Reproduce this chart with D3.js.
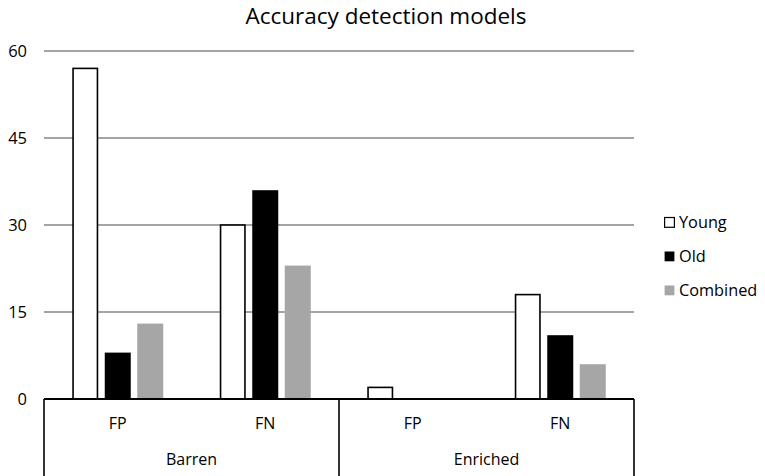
<!DOCTYPE html>
<html><head><meta charset="utf-8">
<script src="https://cdn.jsdelivr.net/npm/d3@7"></script>
<style>body{margin:0;background:#fff}svg{display:block}text{font-family:"Open Sans",sans-serif;fill:#000}</style>
</head><body>
<svg id="c" width="765" height="476"></svg>
<script>
const groups = ["Barren", "Enriched"];
const subcats = ["FP", "FN"];
const series = ["Young", "Old", "Combined"];
const young = [57, 30, 2, 18];
const old = [8, 36, 0, 11];
const combined = [13, 23, 0, 6];
const yTicks = [0, 15, 30, 45, 60];
const colors = {Young: "#ffffff", Old: "#000000", Combined: "#a6a6a6"};

const cats = [];
groups.forEach(g => subcats.forEach(s => cats.push(g + "|" + s)));
const values = {Young: young, Old: old, Combined: combined};

const svg = d3.select("#c");
const pLeft = 44, pRight = 634, pTop = 51, pBottom = 399;
const x = d3.scaleBand().domain(cats).range([pLeft, pRight]);
const xg = d3.scaleBand().domain(groups).range([pLeft, pRight]);
const y = d3.scaleLinear().domain([0, 60]).range([pBottom, pTop]);
const groupW = 91;
const xs = d3.scaleBand().domain(series).range([0, groupW]).paddingInner(0.2);

// title
svg.append("text").attr("x", 386).attr("y", 23.5).attr("text-anchor", "middle")
  .attr("dominant-baseline", "alphabetic")
  .style("font-size", "22.5px").text("Accuracy detection models");

// gridlines
svg.append("g").selectAll("line").data(yTicks.filter(d => d > 0)).join("line")
  .attr("x1", pLeft).attr("x2", pRight).attr("y1", d => y(d)).attr("y2", d => y(d))
  .attr("stroke", "#868686").attr("stroke-width", 1.5);

// y labels
svg.append("g").selectAll("text").data(yTicks).join("text")
  .attr("x", 27).attr("y", d => y(d) + 6).attr("text-anchor", "end")
  .style("font-size", "16.5px").text(d => d);

// bars
series.forEach(s => {
  svg.append("g").selectAll("rect").data(cats.map((c, i) => ({c, v: values[s][i]})).filter(d => d.v > 0))
    .join("rect")
    .attr("x", d => x(d.c) + x.bandwidth() / 2 - groupW / 2 + xs(s) + (s === "Young" ? 0.8 : 0))
    .attr("width", xs.bandwidth() - (s === "Young" ? 1.6 : 0))
    .attr("y", d => y(d.v))
    .attr("height", d => y(0) - y(d.v))
    .attr("fill", colors[s])
    .attr("stroke", s === "Young" ? "#000" : "none")
    .attr("stroke-width", 1.6);
});

// category axis line and boxes
svg.append("line").attr("x1", pLeft).attr("x2", pRight).attr("y1", pBottom).attr("y2", pBottom)
  .attr("stroke", "#000").attr("stroke-width", 2);
const bounds = [pLeft].concat(groups.map(g => xg(g) + xg.bandwidth()));
svg.append("g").selectAll("line").data(bounds).join("line")
  .attr("x1", d => d).attr("x2", d => d).attr("y1", pBottom).attr("y2", 476)
  .attr("stroke", "#000").attr("stroke-width", 1.6);

svg.append("g").selectAll("text").data(cats).join("text")
  .attr("x", d => x(d) + x.bandwidth() / 2).attr("y", 429).attr("text-anchor", "middle")
  .style("font-size", "16px").text(d => d.split("|")[1]);
svg.append("g").selectAll("text").data(groups).join("text")
  .attr("x", d => xg(d) + xg.bandwidth() / 2).attr("y", 465).attr("text-anchor", "middle")
  .style("font-size", "16px").text(d => d);

// legend
const lg = svg.append("g").selectAll("g").data(series).join("g")
  .attr("transform", (d, i) => `translate(664,${227.5 + i * 34})`);
lg.append("rect").attr("x", 0.6).attr("y", -10).attr("width", 9.8).attr("height", 9.8)
  .attr("fill", d => colors[d]).attr("stroke", d => d === "Young" ? "#000" : "none").attr("stroke-width", 1.2);
lg.append("text").attr("x", 15).attr("y", 0).style("font-size", "16.3px").text(d => d);
</script>
</body></html>
